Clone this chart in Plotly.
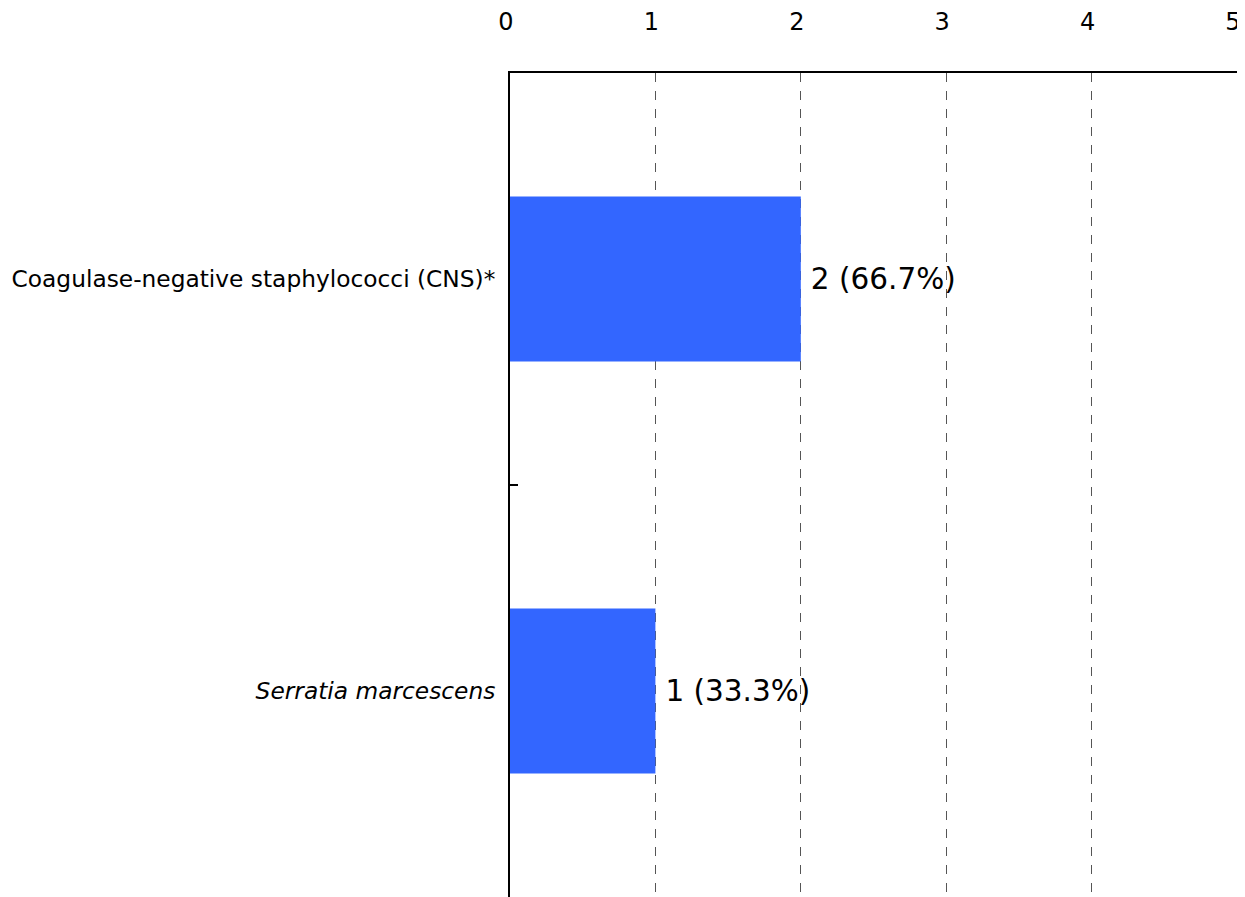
import plotly.graph_objects as go

categories = ["Coagulase-negative staphylococci (CNS)*", "<i>Serratia marcescens</i>"]
counts = [2, 1]
labels = ["2 (66.7%)", "1 (33.3%)"]
x_ticks = [0, 1, 2, 3, 4, 5]

fig = go.Figure(go.Bar(
    y=categories, x=counts, orientation="h",
    marker=dict(color="#3366FF", line=dict(width=0)),
    width=0.4,
    text=labels, textposition="outside", cliponaxis=False,
    texttemplate="<span style='font-size:22px'>\u00a0</span>%{text}",
    textfont=dict(size=29.5, color="black"),
))

# the page body adds an 8px margin, so the figure is a bit smaller than the window
fig.update_layout(
    width=1237, height=889,
    margin=dict(l=502, r=8, t=65, b=0, autoexpand=False),
    paper_bgcolor="white", plot_bgcolor="white",
    font=dict(family="DejaVu Sans", size=20, color="black"),
    showlegend=False,
)
fig.update_xaxes(
    side="top", range=[0, 5], tickvals=x_ticks, ticks="",
    ticklabelstandoff=31, ticklabelshift=-4, ticklabeloverflow="allow", automargin=False,
    tickfont=dict(size=24),
    showgrid=True, gridcolor="#555555", griddash="dash", gridwidth=1,
    showline=True, linecolor="black", linewidth=2,
    zeroline=False,
)
fig.update_yaxes(
    range=[1.5, -0.5], categoryorder="array", categoryarray=categories,
    tickson="boundaries", ticks="inside", ticklen=8, tickcolor="black", tickwidth=2,
    showline=True, linecolor="black", linewidth=2, automargin=False,
    tickfont=dict(size=23.3),
    showgrid=False, ticklabelstandoff=8,
)

fig.write_html("out.html")
